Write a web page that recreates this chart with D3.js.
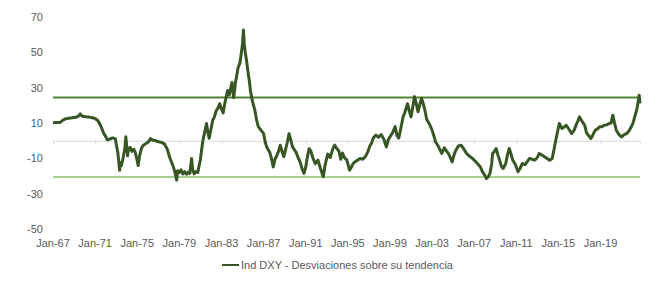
<!DOCTYPE html>
<html>
<head>
<meta charset="utf-8">
<script src="https://cdn.jsdelivr.net/npm/d3@7"></script>
<style>
  body { margin: 0; background: #fff; }
  text { font-family: "Liberation Sans", Arial, sans-serif; fill: #595959; }
</style>
</head>
<body>
<svg id="chart"></svg>
<script>
// fechas (mes) y desviaciones del DXY sobre su tendencia
const fechas = [
  "1967-01","1967-05","1967-09","1967-12","1968-03","1968-07","1968-11","1969-03","1969-06","1969-08","1969-10","1970-02","1970-06","1970-10",
  "1971-01","1971-04","1971-07","1971-09","1971-11","1972-01","1972-03","1972-06","1972-09","1972-12",
  "1973-02","1973-03","1973-04","1973-05","1973-06","1973-07","1973-09","1973-11","1973-12","1974-01","1974-02","1974-03","1974-05","1974-07","1974-09","1974-11",
  "1975-01","1975-02","1975-04","1975-06","1975-08","1975-11","1976-02","1976-04","1976-07","1976-10","1977-01","1977-04","1977-08","1977-11",
  "1978-02","1978-04","1978-06","1978-08","1978-10","1978-11","1979-01","1979-03","1979-05","1979-07","1979-09","1979-11","1980-01","1980-03","1980-04","1980-06","1980-08","1980-10","1980-12",
  "1981-01","1981-03","1981-04","1981-06","1981-08","1981-09","1981-11","1982-01","1982-03","1982-05","1982-07","1982-09","1982-11",
  "1983-01","1983-03","1983-05","1983-08","1983-10","1984-01","1984-03","1984-05","1984-08","1984-10","1984-11",
  "1985-01","1985-02","1985-03","1985-04","1985-06","1985-07","1985-09","1985-10","1985-12","1986-03","1986-05","1986-07","1986-10",
  "1987-01","1987-03","1987-05","1987-08","1987-10","1987-12","1988-02","1988-04","1988-06","1988-08","1988-10","1988-12","1989-02","1989-04","1989-06","1989-08","1989-10","1989-12",
  "1990-02","1990-04","1990-07","1990-09","1990-11","1991-01","1991-03","1991-05","1991-07","1991-09","1991-12","1992-03","1992-06","1992-09","1992-11",
  "1993-02","1993-05","1993-08","1993-10","1993-12","1994-03","1994-05","1994-07","1994-09","1994-12","1995-03","1995-05","1995-07","1995-09","1995-12","1996-03","1996-06","1996-09","1996-12",
  "1997-02","1997-04","1997-06","1997-09","1997-12","1998-03","1998-06","1998-09","1998-11","1999-02","1999-04","1999-07","1999-09","1999-11",
  "2000-01","2000-04","2000-06","2000-09","2000-11","2001-01","2001-03","2001-05","2001-07","2001-09","2001-11","2002-01","2002-03","2002-05","2002-07","2002-10",
  "2003-01","2003-03","2003-05","2003-08","2003-12","2004-03","2004-05","2004-08","2004-12","2005-02","2005-04","2005-07","2005-10","2006-01","2006-04","2006-07","2006-11",
  "2007-02","2007-05","2007-08","2007-11","2008-01","2008-03","2008-05","2008-07","2008-09","2008-10","2008-12","2009-02","2009-04","2009-06","2009-08","2009-10",
  "2010-01","2010-03","2010-05","2010-07","2010-09","2010-12","2011-03","2011-05","2011-08","2011-11","2012-02","2012-04","2012-07","2012-10","2013-01","2013-03","2013-06","2013-09","2013-12",
  "2014-03","2014-06","2014-08","2014-10","2014-12","2015-02","2015-05","2015-08","2015-10","2016-01","2016-04","2016-07","2016-09","2016-11","2017-01","2017-04","2017-07","2017-09","2017-11",
  "2018-02","2018-04","2018-07","2018-10","2018-12","2019-03","2019-05","2019-08","2019-11","2020-01","2020-03","2020-05","2020-07","2020-10","2021-01","2021-04","2021-07","2021-10","2021-12","2022-02","2022-04","2022-06","2022-07","2022-09","2022-10"
];
const desviaciones = [
  10.2, 10.4, 10.3, 11.5, 12.4, 12.8, 13.0, 13.3, 14.0, 15.2, 14.0, 13.6, 13.4, 13.0,
  12.6, 11.5, 9.0, 6.5, 4.0, 2.5, 0.5, 1.0, 1.6, 1.2,
  -4.5, -7.0, -12.0, -16.7, -12.5, -14.0, -9.5, -4.0, 2.2, -3.0, -8.5, -5.0, -3.8, -6.0, -4.8, -7.0,
  -11.5, -14.0, -8.0, -4.0, -2.5, -1.5, -0.5, 1.2, 0.3, 0.0, -0.6, -0.8, -1.8, -4.5,
  -9.5, -12.0, -14.5, -17.8, -22.3, -17.0, -18.0, -16.5, -18.8, -17.5, -19.0, -17.8, -18.5, -10.0, -16.0, -18.8, -17.5, -18.0, -13.0,
  -10.5, -3.0, 0.5, 5.0, 9.8, 6.0, 1.5, 6.5, 11.5, 13.5, 17.0, 18.5, 21.0,
  18.0, 15.8, 21.5, 28.5, 26.0, 33.0, 24.5, 33.0, 41.5, 44.0, 47.5,
  55.0, 62.7, 55.0, 50.5, 44.0, 40.0, 33.0, 28.5, 23.0, 17.5, 12.0, 8.0, 6.0,
  4.0, -1.0, -4.0, -6.5, -10.0, -14.8, -10.5, -8.5, -6.0, -2.5, -6.0, -9.0, -5.0, -1.0, 4.0, 0.5, -3.5, -5.0,
  -6.5, -9.0, -12.5, -16.0, -18.5, -15.0, -9.0, -4.5, -6.0, -9.5, -13.0, -11.0, -16.0, -20.4, -14.0,
  -7.5, -9.5, -4.5, -2.5, -4.0, -6.0, -10.5, -7.0, -9.5, -11.0, -16.7, -15.0, -13.0, -12.0, -11.0, -10.0, -10.5, -9.0, -6.0,
  -3.0, -1.5, 1.5, 3.2, 2.0, 3.5, 1.0, -3.5, 0.5, 3.0, 4.5, 8.0, 3.0, 1.5,
  6.0, 13.5, 16.0, 21.0, 17.0, 13.5, 19.0, 25.0, 21.0, 16.5, 20.5, 24.0, 21.0, 17.0, 12.0, 9.5,
  6.0, 3.0, -0.6, -3.0, -7.2, -4.0, -5.5, -7.5, -12.0, -8.0, -5.5, -3.0, -2.5, -4.5, -7.0, -8.5, -10.0,
  -11.5, -13.0, -14.8, -18.0, -19.5, -21.4, -20.5, -18.5, -13.0, -7.2, -6.0, -4.4, -8.0, -11.0, -14.5, -15.7,
  -12.9, -8.0, -4.4, -7.5, -11.0, -13.5, -17.6, -16.0, -12.9, -13.5, -11.5, -10.0, -10.5, -11.0, -9.5, -7.2, -8.0, -9.1, -10.0,
  -11.0, -10.0, -5.0, 0.3, 5.0, 9.8, 7.0, 8.0, 8.8, 6.5, 4.1, 6.0, 8.8, 11.0, 13.5, 11.0, 8.8, 4.5, 3.2,
  1.3, 3.0, 6.0, 7.0, 7.9, 8.0, 8.8, 9.0, 9.8, 10.0, 14.5, 10.0, 6.0, 3.5, 2.2, 3.5, 4.1, 6.0, 7.9, 10.0, 13.5, 17.0, 19.2, 25.8, 21.1
];
// bandas horizontales (superior / inferior)
const bandaSuperior = 24.5;
const bandaInferior = -20.6;
// etiquetas de los ejes
const ticksY = [70, 50, 30, 10, -10, -30, -50];
const ticksX = ["1967-01","1971-01","1975-01","1979-01","1983-01","1987-01","1991-01",
  "1995-01","1999-01","2003-01","2007-01","2011-01","2015-01","2019-01"];
const nombreSerie = "Ind DXY - Desviaciones sobre su tendencia";

const width = 670;
const height = 300;
const parseMes = d3.timeParse("%Y-%m");
const data = fechas.map((f, i) => ({ date: parseMes(f), value: desviaciones[i] }));

const svg = d3.select("#chart").attr("width", width).attr("height", height);

// escalas
const x = d3.scaleTime()
  .domain([parseMes("1967-01"), parseMes("2022-10")])
  .range([53, 640]);
const y = d3.scaleLinear().domain([-50, 70]).range([229, 17.2]);

// etiquetas eje Y (sin linea)
svg.append("g")
  .selectAll("text")
  .data(ticksY)
  .join("text")
  .attr("x", 43)
  .attr("y", d => y(d))
  .attr("dy", "0.35em")
  .attr("text-anchor", "end")
  .style("font-size", "11px")
  .text(d => d);

// linea del eje en cero con marcas
const xAxis = d3.axisBottom(x)
  .tickValues(ticksX.map(parseMes))
  .tickSize(3)
  .tickFormat("");
const gx = svg.append("g")
  .attr("transform", "translate(0," + y(0) + ")")
  .call(xAxis);
gx.select(".domain").attr("stroke", "#d9d9d9").attr("stroke-width", 1);
gx.selectAll(".tick line").attr("stroke", "#d9d9d9");

// etiquetas de fecha abajo
const fmt = d3.timeFormat("%b-%y");
svg.append("g")
  .selectAll("text")
  .data(ticksX.map(parseMes))
  .join("text")
  .attr("x", d => x(d))
  .attr("y", 243)
  .attr("dy", "0.35em")
  .attr("text-anchor", "middle")
  .style("font-size", "11px")
  .text(d => fmt(d));

// bandas
svg.append("line")
  .attr("x1", x.range()[0]).attr("x2", x.range()[1])
  .attr("y1", y(bandaSuperior)).attr("y2", y(bandaSuperior))
  .attr("stroke", "#548235").attr("stroke-width", 2);
svg.append("line")
  .attr("x1", x.range()[0]).attr("x2", x.range()[1])
  .attr("y1", y(bandaInferior)).attr("y2", y(bandaInferior))
  .attr("stroke", "#a9d08e").attr("stroke-width", 2);

// serie
const line = d3.line().x(d => x(d.date)).y(d => y(d.value));
svg.append("path")
  .datum(data)
  .attr("fill", "none")
  .attr("stroke", "#375623")
  .attr("stroke-width", 3)
  .attr("stroke-linejoin", "round")
  .attr("d", line);

// leyenda
const legend = svg.append("g").attr("transform", "translate(222,265)");
legend.append("line")
  .attr("x1", 0).attr("x2", 17)
  .attr("stroke", "#375623").attr("stroke-width", 2);
legend.append("text")
  .attr("x", 19)
  .attr("dy", "0.35em")
  .style("font-size", "11px")
  .text(nombreSerie);
</script>
</body>
</html>
